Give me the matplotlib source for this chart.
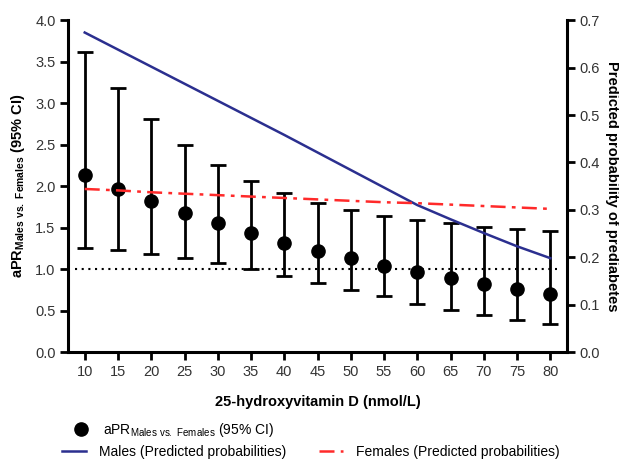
import matplotlib.pyplot as plt

plt.rcParams['font.family'] = ['Liberation Sans', 'DejaVu Sans']

# data
vitd = [10, 15, 20, 25, 30, 35, 40, 45, 50, 55, 60, 65, 70, 75, 80]
apr = [2.14, 1.97, 1.82, 1.68, 1.55, 1.43, 1.32, 1.22, 1.13, 1.04, 0.96, 0.89, 0.82, 0.76, 0.70]
apr_hi = [3.62, 3.18, 2.81, 2.50, 2.26, 2.06, 1.92, 1.80, 1.71, 1.64, 1.59, 1.55, 1.51, 1.48, 1.46]
apr_lo = [1.26, 1.23, 1.18, 1.13, 1.07, 1.00, 0.92, 0.83, 0.75, 0.67, 0.58, 0.51, 0.45, 0.39, 0.34]
males = [0.674, 0.638, 0.602, 0.566, 0.530, 0.494, 0.458, 0.421, 0.384, 0.347, 0.310, 0.280, 0.251, 0.223, 0.198]
females = [0.344, 0.341, 0.337, 0.334, 0.331, 0.328, 0.325, 0.322, 0.319, 0.316, 0.314, 0.311, 0.308, 0.305, 0.302]

blue = '#2b2f8f'
red = '#ff2a2a'
tick_col = '#333333'

fig = plt.figure(figsize=(6.19, 4.59), dpi=100)
ax = fig.add_axes([0.110, 0.233, 0.806, 0.723])
ax2 = ax.twinx()

# reference line at 1.0
ax.hlines(1.0, 8.5, 81, colors='black', linestyles=(0, (1, 2.2)), linewidth=1.5, zorder=1)

yerr = [[a - l for a, l in zip(apr, apr_lo)], [h - a for a, h in zip(apr, apr_hi)]]
eb = ax.errorbar(vitd, apr, yerr=yerr, fmt='o', color='black', ms=9.5,
                 elinewidth=2, capsize=6, capthick=2, zorder=3)

l_m, = ax2.plot(vitd, males, color=blue, lw=1.8)
l_f, = ax2.plot(vitd, females, color=red, lw=1.8, ls=(0, (6, 2.5, 1.5, 2.5)))

ax.set_xlim(7.5, 82.5)
ax.set_ylim(0, 4.0)
ax2.set_ylim(0, 0.7)
ax.set_xticks(vitd)
ax.set_yticks([0.0, 0.5, 1.0, 1.5, 2.0, 2.5, 3.0, 3.5, 4.0])
ax.set_yticklabels(['%.1f' % v for v in ax.get_yticks()])
ax2.set_yticks([0.0, 0.1, 0.2, 0.3, 0.4, 0.5, 0.6, 0.7])
ax2.set_yticklabels(['%.1f' % v for v in ax2.get_yticks()])

for a in (ax, ax2):
    a.spines['top'].set_visible(False)
    for s in a.spines.values():
        s.set_linewidth(2.2)
    a.tick_params(width=2, length=6, labelsize=10.5, labelcolor=tick_col, pad=3)
ax.spines['right'].set_visible(False)
ax2.spines['left'].set_visible(False)
ax2.spines['bottom'].set_visible(False)

ax.set_xlabel('25-hydroxyvitamin D (nmol/L)', fontsize=10.5, fontweight='bold', labelpad=12)
ax.set_ylabel(r'aPR$_{\mathregular{Males\ vs.\ Females}}$ (95% CI)', fontsize=10.5,
              fontweight='bold', labelpad=6)
ax2.set_ylabel('Predicted probability of prediabetes', fontsize=10.5, fontweight='bold',
               rotation=270, labelpad=14)

# legends below the plot
leg1 = fig.legend([eb[0]], [r'aPR$_{\mathregular{Males\ vs.\ Females}}$ (95% CI)'],
                  loc='center left', bbox_to_anchor=(0.1002, 0.0624), frameon=False,
                  fontsize=10, handlelength=1.0, handletextpad=1.08)
leg1.legend_handles[0].set_markersize(9.5)
fig.legend([l_m, l_f], ['Males (Predicted probabilities)', 'Females (Predicted probabilities)'],
           loc='center left', bbox_to_anchor=(0.0797, 0.016), frameon=False, ncol=2,
           fontsize=10, handlelength=1.73, handletextpad=0.94, columnspacing=2.37)

fig.savefig('out.png', dpi=100)
